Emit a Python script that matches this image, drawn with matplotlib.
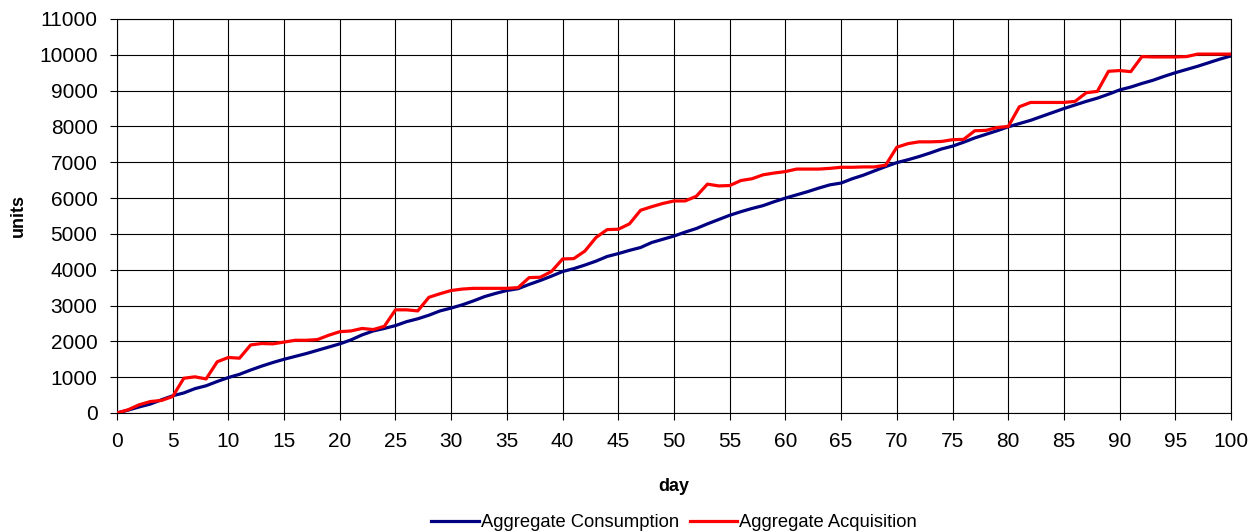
import matplotlib
matplotlib.use("Agg")
import matplotlib.pyplot as plt
import numpy as np

plt.rcParams['font.family'] = ['Liberation Sans', 'DejaVu Sans']

# data, one value per day
days = list(range(0, 101))

consumption = [
    0, 80, 170, 250, 370, 480, 560, 680, 760, 880,
    990, 1080, 1200, 1310, 1410, 1500, 1580, 1660, 1750, 1840,
    1930, 2040, 2180, 2290, 2360, 2440, 2550, 2630, 2730, 2850,
    2930, 3020, 3130, 3250, 3340, 3420, 3470, 3590, 3700, 3820,
    3950, 4030, 4130, 4240, 4370, 4450, 4540, 4620, 4760, 4850,
    4940, 5050, 5150, 5280, 5400, 5520, 5620, 5710, 5790, 5900,
    6000, 6090, 6180, 6280, 6370, 6420, 6540, 6640, 6760, 6880,
    6990, 7070, 7160, 7260, 7370, 7450, 7560, 7680, 7780, 7880,
    7990, 8080, 8170, 8280, 8390, 8500, 8600, 8700, 8790, 8900,
    9020, 9100, 9200, 9290, 9400, 9500, 9590, 9680, 9780, 9880,
    9970,
]

acquisition = [
    0, 90, 230, 320, 350, 460, 970, 1010, 950, 1430,
    1550, 1530, 1900, 1940, 1930, 1980, 2030, 2030, 2050, 2170,
    2270, 2290, 2360, 2330, 2420, 2880, 2880, 2850, 3230, 3330,
    3420, 3460, 3480, 3480, 3480, 3480, 3500, 3780, 3790, 3950,
    4300, 4310, 4520, 4900, 5120, 5130, 5280, 5660, 5760, 5850,
    5920, 5920, 6050, 6390, 6340, 6350, 6490, 6540, 6650, 6700,
    6740, 6810, 6810, 6810, 6830, 6860, 6860, 6870, 6870, 6920,
    7420, 7520, 7570, 7570, 7580, 7630, 7640, 7880, 7890, 7970,
    8000, 8550, 8670, 8670, 8670, 8670, 8700, 8940, 8980, 9540,
    9560, 9530, 9950, 9940, 9940, 9940, 9950, 10020, 10020, 10020,
    10020,
]

x_ticks = list(range(0, 101, 5))
y_ticks = list(range(0, 11001, 1000))

fig = plt.figure(figsize=(12.59, 5.32), dpi=100)
ax = fig.add_axes([0.0929, 0.2237, 0.8849, 0.7406])

ax.plot(days, consumption, color='#000080', lw=2.3, label='Aggregate Consumption',
        solid_joinstyle='round', zorder=3)
ax.plot(days, acquisition, color='#FF0000', lw=2.3, label='Aggregate Acquisition',
        solid_joinstyle='round', zorder=4)

ax.set_xlim(0, 100)
ax.set_ylim(0, 11000)
ax.set_xticks(x_ticks)
ax.set_yticks(y_ticks)
ax.tick_params(axis='both', labelsize=15, length=5, width=0.8, pad=9, color='black')
ax.grid(True, color='black', lw=0.8)
ax.set_axisbelow(True)
for s in ax.spines.values():
    s.set_color('black')
    s.set_linewidth(0.8)

ax.set_xlabel('day', fontsize=13, fontweight='bold', labelpad=19)
ax.set_ylabel('units', fontsize=13, fontweight='bold', labelpad=9)

# legend centred under the plot area, not the figure
fig.legend(loc='lower center', bbox_to_anchor=(0.5353, -0.03), ncol=2, frameon=False,
           fontsize=13.2, handlelength=2.6, handletextpad=0.1, columnspacing=0.6)

fig.savefig('out.png', dpi=100)
